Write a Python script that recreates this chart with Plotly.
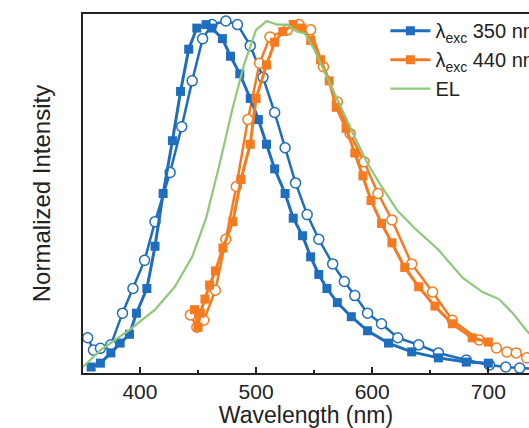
import plotly.graph_objects as go

# Blue, filled squares (lambda_exc 350 nm)
blue_sq_x = [358, 366, 375, 383, 391, 397, 406, 413, 420, 428, 435, 442, 449, 457, 462, 471, 478, 486, 495, 502,
             509, 516, 525, 532, 540, 547, 554, 561, 570, 582, 596, 614, 634, 657, 681, 700]
blue_sq_y = [0.017, 0.028, 0.057, 0.085, 0.11, 0.17, 0.24, 0.36, 0.51, 0.66, 0.80, 0.92, 0.98, 0.99, 0.98, 0.95,
             0.90, 0.85, 0.78, 0.72, 0.65, 0.58, 0.51, 0.44, 0.39, 0.33, 0.28, 0.24, 0.20, 0.16, 0.12, 0.085,
             0.06, 0.043, 0.031, 0.028]

# Blue, hollow circles
blue_ci_x = [355, 360, 366, 375, 385, 394, 404, 413, 426, 436, 445, 454, 462, 474, 484, 495, 506, 516, 525, 534,
             544, 554, 566, 576, 585, 596, 608, 622, 640, 657, 681, 701, 715, 727, 740]
blue_ci_y = [0.10, 0.065, 0.07, 0.08, 0.17, 0.24, 0.32, 0.43, 0.57, 0.70, 0.83, 0.95, 0.99, 1.0, 0.99, 0.93, 0.84,
             0.74, 0.64, 0.54, 0.45, 0.38, 0.31, 0.26, 0.22, 0.17, 0.14, 0.10, 0.08, 0.057, 0.037, 0.023, 0.017,
             0.014, 0.012]

# Orange, filled squares (lambda_exc 440 nm)
orange_sq_x = [447, 450, 452, 456, 460, 465, 471.5, 480, 487, 495, 500, 509, 516, 523, 532, 539.5, 547, 555.5, 563,
               569, 577.5, 585, 592, 599, 608, 617, 628, 640, 654, 669, 686, 700]
orange_sq_y = [0.18, 0.13, 0.17, 0.21, 0.25, 0.29, 0.355, 0.43, 0.55, 0.65, 0.78, 0.875, 0.94, 0.97, 0.99, 0.98,
               0.945, 0.89, 0.83, 0.755, 0.695, 0.625, 0.56, 0.49, 0.425, 0.37, 0.30, 0.245, 0.19, 0.14, 0.10, 0.088]

# Orange, hollow circles
orange_ci_x = [443.5, 449, 455, 465, 474, 483, 493, 503, 512, 527, 537, 547, 558, 570, 581, 593, 605, 617, 634, 652,
               669, 692, 707, 716, 724, 733, 742]
orange_ci_y = [0.165, 0.13, 0.15, 0.235, 0.38, 0.53, 0.72, 0.88, 0.955, 0.975, 0.99, 0.975, 0.87, 0.77, 0.68, 0.60,
               0.51, 0.435, 0.31, 0.23, 0.15, 0.094, 0.071, 0.06, 0.057, 0.043, 0.035]

# EL, green line
el_x = [351, 366, 390, 413, 430, 445, 457, 468, 480, 490, 500, 509, 518, 527, 535, 542, 550, 561, 573, 585, 596,
        608, 622, 637, 657, 678, 695, 709, 721, 733, 745]
el_y = [0.017, 0.065, 0.12, 0.18, 0.245, 0.33, 0.44, 0.585, 0.755, 0.88, 0.975, 1.0, 0.99, 0.99, 0.97, 0.965, 0.92,
        0.84, 0.755, 0.67, 0.595, 0.53, 0.46, 0.41, 0.35, 0.27, 0.23, 0.21, 0.17, 0.12, 0.08]

x_ticks = [400, 500, 600, 700]
legend_labels = ["λ<sub>exc</sub> 350 nm", "λ<sub>exc</sub> 440 nm", "EL"]

BLUE = "#1f6dbd"
ORANGE = "#f47b20"
GREEN = "#8cc97a"
FONT = "Arial, Liberation Sans, sans-serif"

fig = go.Figure()

fig.add_trace(go.Scatter(x=blue_ci_x, y=blue_ci_y, mode="lines+markers", showlegend=False,
                         line=dict(color=BLUE, width=2.5),
                         marker=dict(symbol="circle", size=10, color="white",
                                     line=dict(color=BLUE, width=1.5))))
fig.add_trace(go.Scatter(x=orange_ci_x, y=orange_ci_y, mode="lines+markers", showlegend=False,
                         line=dict(color=ORANGE, width=2.5),
                         marker=dict(symbol="circle", size=10, color="white",
                                     line=dict(color=ORANGE, width=1.5))))
fig.add_trace(go.Scatter(x=blue_sq_x, y=blue_sq_y, mode="lines+markers", name=legend_labels[0],
                         line=dict(color=BLUE, width=3),
                         marker=dict(symbol="square", size=9, color=BLUE)))
fig.add_trace(go.Scatter(x=orange_sq_x, y=orange_sq_y, mode="lines+markers", name=legend_labels[1],
                         line=dict(color=ORANGE, width=3),
                         marker=dict(symbol="square", size=9, color=ORANGE)))
fig.add_trace(go.Scatter(x=el_x, y=el_y, mode="lines", name=legend_labels[2],
                         line=dict(color=GREEN, width=2.2)))

fig.update_layout(
    width=529, height=428,
    margin=dict(l=83, r=0, t=14, b=55, autoexpand=False),
    paper_bgcolor="white", plot_bgcolor="white",
    font=dict(family=FONT, color="#222222", size=20),
    legend=dict(x=0.678, y=1.008, xanchor="left", yanchor="top",
                bgcolor="rgba(255,255,255,0)", font=dict(size=20), tracegroupgap=0, itemwidth=40),
    xaxis=dict(range=[351, 735], tickvals=x_ticks, ticks="inside", ticklen=6, tickwidth=2,
               tickcolor="#222222", showline=True, linecolor="#222222", linewidth=2, mirror=True,
               showgrid=False, zeroline=False, tickfont=dict(size=21), ticklabelstandoff=-1,
               minor=dict(ticks="inside", ticklen=3, tickwidth=2, dtick=50, tick0=0, tickcolor="#222222"),
               title=dict(text="Wavelength (nm)", font=dict(size=23), standoff=7)),
    yaxis=dict(range=[0, 1.02], showticklabels=False, ticks="", showline=True, linecolor="#222222",
               linewidth=2, mirror=False, showgrid=False, zeroline=False,
               title=dict(text="Normalized Intensity", font=dict(size=24), standoff=24)),
)

fig.write_html("out.html", config={"displayModeBar": False},
               post_script="document.body.style.margin='0';document.body.style.overflow='hidden';")
